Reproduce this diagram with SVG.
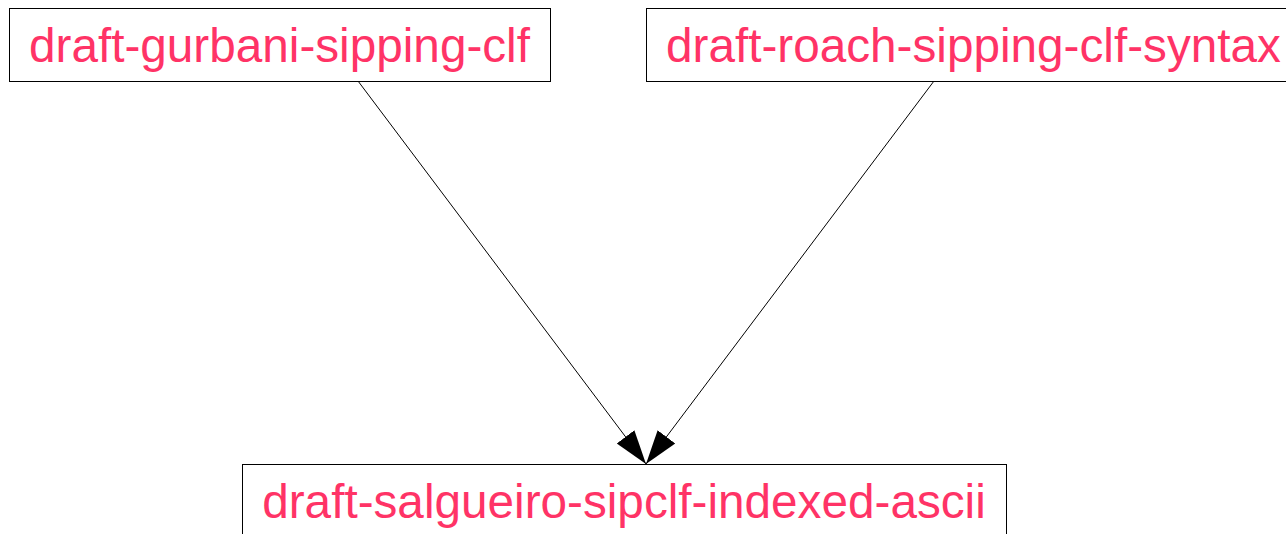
<svg xmlns="http://www.w3.org/2000/svg" width="1286" height="534" viewBox="0 0 1286 534">
<style>
.box{fill:#ffffff;stroke:#000000;stroke-width:1}
.lbl{font-family:"Liberation Sans",Arial,sans-serif;font-size:47.7px;fill:#ff3366}
.edge{stroke:#000000;stroke-width:1;fill:none}
</style>
<defs>
<marker id="ah" markerUnits="userSpaceOnUse" markerWidth="35" markerHeight="24" viewBox="0 -12 35 24" refX="34" refY="0" orient="auto">
<path d="M0,-11 L34,0 L0,11 z" fill="#000000"/>
</marker>
</defs>
<rect width="1286" height="534" fill="#ffffff"/>
<g id="connectors">
<line class="edge" x1="358" y1="81" x2="646" y2="464" marker-end="url(#ah)"/>
<line class="edge" x1="934" y1="81" x2="646" y2="464" marker-end="url(#ah)"/>
</g>
<g id="node-gurbani">
<rect class="box" x="9.5" y="8.5" width="541" height="73"/>
<text class="lbl" x="279.5" y="62" text-anchor="middle">draft-gurbani-sipping-clf</text>
</g>
<g id="node-roach">
<rect class="box" x="646.5" y="8.5" width="660" height="73"/>
<text class="lbl" x="666" y="62">draft-roach-sipping-clf-syntax</text>
</g>
<g id="node-salgueiro">
<rect class="box" x="242.5" y="464.5" width="764" height="90"/>
<text class="lbl" x="624" y="518" text-anchor="middle">draft-salgueiro-sipclf-indexed-ascii</text>
</g>
</svg>
